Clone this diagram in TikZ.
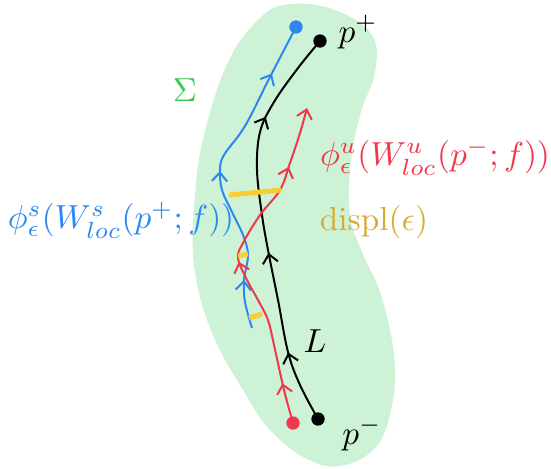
\documentclass[tikz,border=0pt]{standalone}
\usetikzlibrary{arrows.meta,decorations.markings}
\definecolor{blobgreen}{RGB}{206,242,214}
\definecolor{cblue}{RGB}{45,135,240}
\definecolor{cred}{RGB}{240,55,75}
\definecolor{csigma}{RGB}{60,200,90}
\definecolor{cdispl}{RGB}{215,170,50}
\definecolor{cbar}{RGB}{250,205,50}
\newcommand\mytip{\arrow{Straight Barb[length=2.6pt,width=4.6pt,line width=0.6pt]}}
\begin{document}
\begin{tikzpicture}[x=0.3pt,y=-0.3pt,
  curve/.style={line width=0.6pt},
  dotnode/.style={circle,inner sep=0pt,minimum size=4pt},
  barline/.style={cbar,line width=1.5pt},
  lbl/.style={inner sep=0pt}]
\useasboundingbox (0,0) rectangle (551,468);
% region Sigma
\fill[blobgreen] plot[smooth cycle, tension=0.65] coordinates {(290,4) (335,10) (372,35) (375,72) (361,112) (351,160) (350,215) (362,252) (381,295) (394,355) (392,405) (376,447) (340,466) (305,458) (270,430) (246,395) (212,333) (194,265) (195,195) (204,135) (228,62) (260,18)};
% dots
\node[dotnode,fill=black] (pp) at (320,41) {};
\node[dotnode,fill=cblue] (bp) at (296,27) {};
\node[dotnode,fill=black] (pm) at (318,419) {};
\node[dotnode,fill=cred] (rp) at (293,423) {};
\coordinate (bend) at (252,328);
\coordinate (rend) at (307,108);
% black curve L
\draw[curve,postaction={decorate},decoration={markings,
  mark=at position 0.18 with {\mytip},
  mark=at position 0.43 with {\mytip},
  mark=at position 0.77 with {\mytip}}]
  plot[smooth,tension=0.6] coordinates {(pm) (300,385) (288,352) (278,300) (268,250) (262,215) (257,170) (260,132) (274,102) (298,68) (pp)};
% blue curve
\draw[curve,cblue,postaction={decorate},decoration={markings,
  mark=at position 0.15 with {\mytip},
  mark=at position 0.5 with {\mytip},
  mark=at position 0.84 with {\mytip}}]
  plot[smooth,tension=0.6] coordinates {(bend) (245,302) (244,280) (248,255) (243,235) (232,212) (222,190) (220,170) (224,155) (245,126) (270,77) (bp)};
% red curve
\draw[curve,cred,postaction={decorate},decoration={markings,
  mark=at position 0.12 with {\mytip},
  mark=at position 0.5 with {\mytip},
  mark=at position 0.82 with {\mytip}},
  -{Straight Barb[length=2.6pt,width=4.6pt,line width=0.6pt]}]
  plot[smooth,tension=0.6] coordinates {(rp) (284,390) (274,345) (268,320) (258,300) (247,280) (238,258) (243,243) (260,215) (280,190) (290,163) (300,133) (rend)};
% displacement bars
\coordinate (b1a) at (229,195); \coordinate (b1b) at (281,190);
\coordinate (b2a) at (238,256); \coordinate (b2b) at (248,254);
\coordinate (b3a) at (249,318); \coordinate (b3b) at (262,314);
\draw[barline] (b1a) -- (b1b);
\draw[barline] (b2a) -- (b2b);
\draw[barline] (b3a) -- (b3b);
% labels
\node[lbl] (lpp) at (358,32) {$p^+$};
\node[lbl] (lpm) at (362,434) {$p^-$};
\node[lbl,text=csigma] (lsig) at (185,90) {$\Sigma$};
\node[lbl] (lL) at (315,341) {$L$};
\node[lbl,text=cred] (lu) at (435,157) {$\phi^u_\epsilon(W^u_{loc}(p^-;f))$};
\node[lbl,text=cblue] (ls) at (121,220) {$\phi^s_\epsilon(W^s_{loc}(p^+;f))$};
\node[lbl,text=cdispl] (ld) at (374,222) {$\mathrm{displ}(\epsilon)$};
\end{tikzpicture}
\end{document}
